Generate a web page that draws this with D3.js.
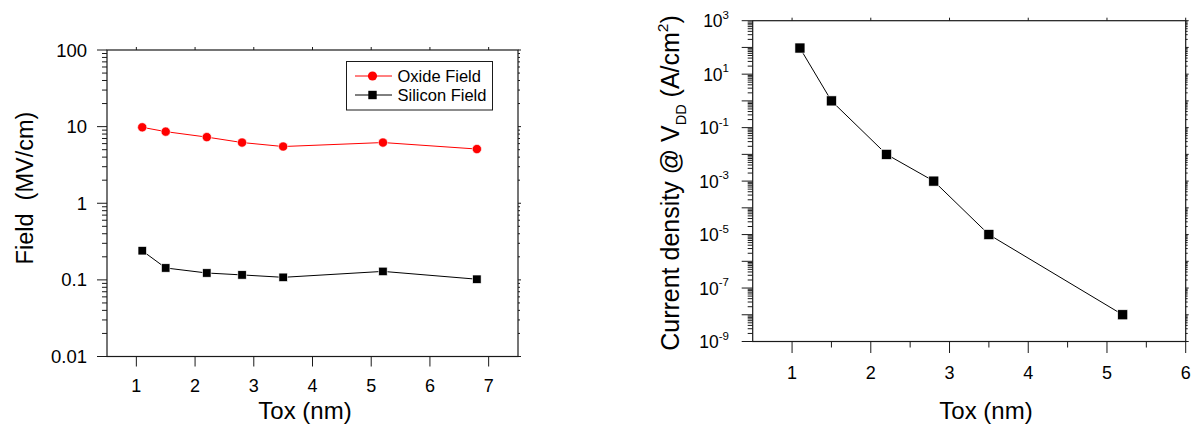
<!DOCTYPE html>
<html><head><meta charset="utf-8">
<script src="https://cdn.jsdelivr.net/npm/d3@7"></script>
<style>body{margin:0;background:#fff}svg{display:block;font-family:"Liberation Sans",Arial,sans-serif}</style>
</head><body>
<svg id="c" width="1195" height="428"></svg>
<script>
// Data
const toxLeft = [1.1, 1.5, 2.2, 2.8, 3.5, 5.2, 6.8];
const oxideField = [9.8, 8.6, 7.3, 6.2, 5.5, 6.2, 5.1];
const siliconField = [0.24, 0.143, 0.123, 0.116, 0.108, 0.129, 0.102];
const leftXTicks = [1, 2, 3, 4, 5, 6, 7];
const leftYTicks = [0.01, 0.1, 1, 10, 100];
const leftYTickLabels = ["0.01", "0.1", "1", "10", "100"];
const legendLabels = ["Oxide Field", "Silicon Field"];

const toxRight = [1.1, 1.5, 2.2, 2.8, 3.5, 5.2];
const currentDensity = [95, 1, 0.01, 0.001, 1e-5, 1e-8];
const rightXTicks = [1, 2, 3, 4, 5, 6];
const rightYExponents = [3, 1, -1, -3, -5, -7, -9];

const svg = d3.select("#c");
const axisColor = "#1a1a1a";

function minorLogTicks(lo, hi) {
  const out = [];
  for (let e = lo; e < hi; e++) for (let m = 2; m <= 9; m++) out.push(m * Math.pow(10, e));
  return out;
}
function decadeTicks(lo, hi) { const o = []; for (let e = lo; e <= hi; e++) o.push(Math.pow(10, e)); return o; }

function frame(g, x, y, W, H) {
  g.append("rect").attr("x", x.range()[0]).attr("y", y.range()[1])
    .attr("width", W).attr("height", H).attr("fill", "none")
    .attr("stroke", axisColor).attr("stroke-width", 1.2);
}
function ticksAt(g, list, fn) {
  g.selectAll(null).data(list).enter().append("line")
    .each(function(d) { const a = fn(d); d3.select(this).attr("x1", a[0]).attr("y1", a[1]).attr("x2", a[2]).attr("y2", a[3]); })
    .attr("stroke", axisColor).attr("stroke-width", 1);
}

// ---------- Left chart ----------
{
  const L = 107, R = 518, T = 50, B = 356.5;
  const x = d3.scaleLinear().domain([0.5, 7.5]).range([L, R]);
  const y = d3.scaleLog().domain([0.01, 100]).range([B, T]);
  const g = svg.append("g");
  frame(g, x, y, R - L, B - T);
  ticksAt(g, leftXTicks, d => [x(d), B, x(d), B + 10]);
  ticksAt(g, leftXTicks, d => [x(d), T, x(d), T - 3]);
  ticksAt(g, leftYTicks, d => [L, y(d), L - 10, y(d)]);
  ticksAt(g, minorLogTicks(-2, 2), d => [L, y(d), L - 5, y(d)]);
  ticksAt(g, leftYTicks, d => [R, y(d), R + 3, y(d)]);
  ticksAt(g, minorLogTicks(-2, 2), d => [R, y(d), R + 2, y(d)]);
  g.selectAll(null).data(leftXTicks).enter().append("text")
    .attr("x", d => x(d)).attr("y", B + 35).attr("text-anchor", "middle")
    .attr("font-size", 18).text(d => d);
  g.selectAll(null).data(leftYTicks).enter().append("text")
    .attr("x", L - 20).attr("y", d => y(d) + 6.5).attr("text-anchor", "end")
    .attr("font-size", 18.5).text((d, i) => leftYTickLabels[i]);
  g.append("text").attr("x", 305).attr("y", 419).attr("text-anchor", "middle")
    .attr("font-size", 24).text("Tox (nm)");
  g.append("text").attr("transform", "translate(33,188) rotate(-90)").attr("text-anchor", "middle")
    .attr("font-size", 23.5).attr("xml:space", "preserve").text("Field  (MV/cm)");
  const lineOx = d3.line().x((d, i) => x(toxLeft[i])).y(d => y(d));
  g.append("path").attr("d", lineOx(oxideField)).attr("fill", "none").attr("stroke", "#ff0000").attr("stroke-width", 1);
  g.append("path").attr("d", lineOx(siliconField)).attr("fill", "none").attr("stroke", "#000").attr("stroke-width", 1);
  g.selectAll(null).data(oxideField).enter().append("circle")
    .attr("cx", (d, i) => x(toxLeft[i])).attr("cy", d => y(d)).attr("r", 4.6)
    .attr("fill", "#ff0000").attr("stroke", "#fff").attr("stroke-width", 0.6);
  g.selectAll(null).data(siliconField).enter().append("rect")
    .attr("x", (d, i) => x(toxLeft[i]) - 4.2).attr("y", d => y(d) - 4.2).attr("width", 8.4).attr("height", 8.4)
    .attr("fill", "#000").attr("stroke", "#fff").attr("stroke-width", 0.6);
  const lg = g.append("g");
  lg.append("rect").attr("x", 346.5).attr("y", 61.5).attr("width", 146).attr("height", 48.5)
    .attr("fill", "#fff").attr("stroke", axisColor).attr("stroke-width", 1);
  const rows = [76, 95];
  legendLabels.forEach((lab, i) => {
    const c = i === 0 ? "#ff0000" : "#000";
    lg.append("line").attr("x1", 355).attr("x2", 392).attr("y1", rows[i]).attr("y2", rows[i]).attr("stroke", c).attr("stroke-width", 1);
    if (i === 0) lg.append("circle").attr("cx", 372.5).attr("cy", rows[i]).attr("r", 4.6).attr("fill", c);
    else lg.append("rect").attr("x", 368.3).attr("y", rows[i] - 4.2).attr("width", 8.4).attr("height", 8.4).attr("fill", c);
    lg.append("text").attr("x", 397.5).attr("y", rows[i] + 6).attr("font-size", 16.5).text(lab);
  });
}

// ---------- Right chart ----------
{
  const L = 752.7, R = 1185.7, T = 20.7, B = 341.5;
  const x = d3.scaleLinear().domain([0.5, 6]).range([L, R]);
  const y = d3.scaleLog().domain([1e-9, 1e3]).range([B, T]);
  const g = svg.append("g");
  frame(g, x, y, R - L, B - T);
  const halfTicks = d3.range(1.5, 6, 1);
  ticksAt(g, rightXTicks, d => [x(d), B, x(d), B + 11.5]);
  ticksAt(g, halfTicks, d => [x(d), B, x(d), B + 6]);
  ticksAt(g, rightXTicks, d => [x(d), T, x(d), T - 3]);
  ticksAt(g, decadeTicks(-9, 3), d => [L, y(d), L - 11, y(d)]);
  ticksAt(g, minorLogTicks(-9, 3), d => [L, y(d), L - 5, y(d)]);
  ticksAt(g, decadeTicks(-9, 3), d => [R, y(d), R + 3, y(d)]);
  ticksAt(g, minorLogTicks(-9, 3), d => [R, y(d), R + 2, y(d)]);
  g.selectAll(null).data(rightXTicks).enter().append("text")
    .attr("x", d => x(d)).attr("y", B + 37.5).attr("text-anchor", "middle")
    .attr("font-size", 18).text(d => d);
  const yl = g.selectAll(null).data(rightYExponents).enter().append("text")
    .attr("x", 729).attr("y", d => y(Math.pow(10, d)) + 6.5).attr("text-anchor", "end")
    .attr("font-size", 17.5);
  yl.append("tspan").text("10");
  yl.append("tspan").attr("font-size", 11.5).attr("dy", -8.5).text(d => d);
  g.append("text").attr("x", 986).attr("y", 419).attr("text-anchor", "middle")
    .attr("font-size", 24).text("Tox (nm)");
  const t = g.append("text").attr("transform", "translate(679,183) rotate(-90)").attr("text-anchor", "middle")
    .attr("font-size", 25);
  t.append("tspan").text("Current density @ V");
  t.append("tspan").attr("font-size", 14.5).attr("dy", 7).text("DD");
  t.append("tspan").attr("dy", -7).text(" (A/cm");
  t.append("tspan").attr("font-size", 15.5).attr("dy", -11).text("2");
  t.append("tspan").attr("dy", 11).text(")");
  const line = d3.line().x((d, i) => x(toxRight[i])).y(d => y(d));
  g.append("path").attr("d", line(currentDensity)).attr("fill", "none").attr("stroke", "#000").attr("stroke-width", 1);
  g.selectAll(null).data(currentDensity).enter().append("rect")
    .attr("x", (d, i) => x(toxRight[i]) - 5).attr("y", d => y(d) - 5).attr("width", 10).attr("height", 10)
    .attr("fill", "#000").attr("stroke", "#fff").attr("stroke-width", 0.6);
}
</script>
</body></html>
